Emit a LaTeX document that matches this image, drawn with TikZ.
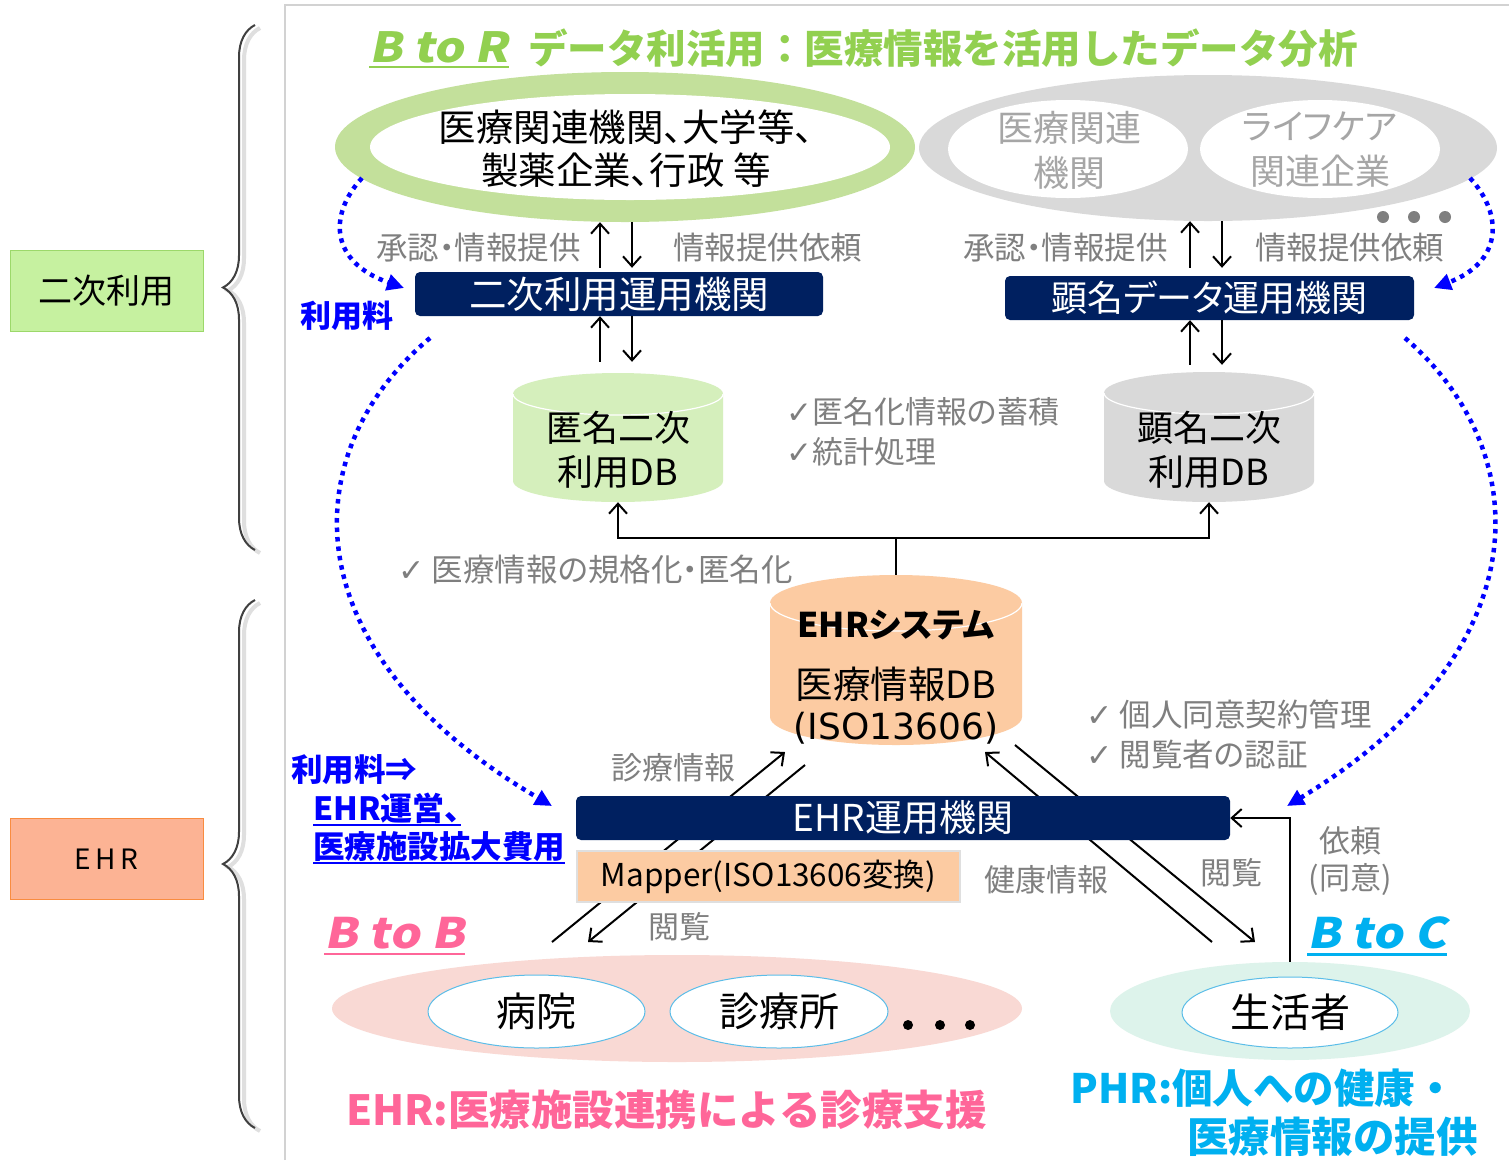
\documentclass[tikz,border=0pt]{standalone}
\usepackage{fontspec}
\setmainfont{Noto Sans CJK JP}[RawFeature=+palt]
\newfontfamily\nopalt{Noto Sans CJK JP}
\newfontfamily\djv{DejaVu Sans}
\newfontfamily\slantf{Noto Sans CJK JP}[FakeSlant=0.2,FakeStretch=1.15]
\usetikzlibrary{arrows.meta,shapes.geometric,decorations.pathreplacing,calc}
\newcommand\fsz[2]{\fontsize{#1pt}{#2pt}\selectfont}
\definecolor{navy}{HTML}{002060}
\definecolor{tgreen}{HTML}{92D050}
\definecolor{ring}{HTML}{C3E09B}
\definecolor{lgray}{HTML}{D9D9D9}
\definecolor{tgray}{HTML}{7F7F7F}
\definecolor{igray}{HTML}{A6A6A6}
\definecolor{dbgreen}{HTML}{D5EFBC}
\definecolor{peach}{HTML}{FCCBA2}
\definecolor{pinkbg}{HTML}{F9D9D4}
\definecolor{mint}{HTML}{DDF3EB}
\definecolor{edgeblue}{HTML}{5BBDE8}
\definecolor{tpink}{HTML}{FF6699}
\definecolor{tcyan}{HTML}{00B0F0}
\definecolor{tblue}{HTML}{0000FF}
\definecolor{boxg}{HTML}{C6F1A0}
\definecolor{boxgd}{HTML}{9CD86A}
\definecolor{boxo}{HTML}{FCB394}
\definecolor{boxod}{HTML}{F98C40}
\newcommand\mycyl[6]{%
  \fill[#6] (#1-#4,#2+#5) -- (#1-#4,#3-#5)
    arc[start angle=180,end angle=360,x radius=#4pt,y radius=#5pt]
    -- (#1+#4,#2+#5)
    arc[start angle=0,end angle=180,x radius=#4pt,y radius=#5pt] -- cycle;
  \draw[white,line width=1.2pt] (#1-#4,#2+#5)
    arc[start angle=180,end angle=360,x radius=#4pt,y radius=#5pt];
}
\begin{document}
\begin{tikzpicture}[x=1pt,y=-1pt,
  navybox/.style={fill=navy, rounded corners=5pt, text=white, minimum height=44pt, inner sep=0pt},
  gtext/.style={text=tgray, inner sep=0pt},
  conn/.style={line width=2pt, black},
  arr/.style={conn, -{Straight Barb[length=10pt,width=18pt]}},
  bluedot/.style={tblue, line width=4.5pt, dash pattern=on 4.5pt off 5pt, -{Triangle[length=17pt,width=16pt]}},
  whiteell/.style={ellipse, fill=white, draw=edgeblue, line width=1pt, inner sep=0pt},
  bigell/.style={ellipse, inner sep=0pt},
  bracestyle/.style={decorate, decoration={brace, amplitude=32pt, aspect=0.5}}
]
\useasboundingbox (0,0) rectangle (1509,1160);
\fill[white] (0,0) rectangle (1509,1160);

% frame
\draw[gray!35,line width=1.5pt] (285,1160) -- (285,5) -- (1509,5);

% left labels
\node[draw=boxgd, fill=boxg, line width=1pt, minimum width=193pt, minimum height=81pt, inner sep=0pt] (lb1) at (106.5,290.5) {\fsz{34}{40}二次利用};
\node[draw=boxod, fill=boxo, line width=1pt, minimum width=193pt, minimum height=81pt, inner sep=0pt] (lb2) at (106.5,859) {\fsz{28}{32}E\,H\,R};

% braces
\draw[bracestyle, gray!25, line width=4pt] (260,553) -- (260,28);
\draw[bracestyle, black!75, line width=2pt] (255,550) -- (255,25);
\draw[bracestyle, gray!25, line width=4pt] (260,1131) -- (260,603);
\draw[bracestyle, black!75, line width=2pt] (255,1128) -- (255,600);

% title
\node[anchor=west, text=tgreen, inner sep=0pt] (btr) at (369,47) {\fsz{41.5}{48}\slantf\bfseries B to R};
\draw[tgreen, line width=2.5pt] ([yshift=-4pt]btr.south west) -- ([yshift=-4pt]btr.south east);
\node[anchor=west, text=tgreen, inner sep=0pt] (ttl) at (528,48) {\fsz{39.5}{48}\nopalt\bfseries データ利活用：医療情報を活用したデータ分析};

% top ellipses
\node[bigell, fill=ring, minimum width=580pt, minimum height=150pt] (gell) at (625,147) {};
\node[bigell, fill=white, minimum width=520pt, minimum height=106pt] (gin) at (630,147) {};
\node[align=center, inner sep=0pt, font={\fsz{37.5}{43}}] (gtxt) at (626,149) {医療関連機関、大学等、\\製薬企業、行政 等};

\node[bigell, fill=lgray, minimum width=578pt, minimum height=146pt] (grell) at (1208,148) {};
\node[bigell, fill=white, minimum width=240pt, minimum height=98pt] (gi1) at (1068,149) {};
\node[align=center, text=igray, inner sep=0pt, font={\fsz{36}{45}}] (gi1t) at (1069,150) {医療関連\\機関};
\node[bigell, fill=white, minimum width=240pt, minimum height=98pt] (gi2) at (1320,149) {};
\node[align=center, text=igray, inner sep=0pt, font={\fsz{35}{45}}] (gi2t) at (1320,150) {ライフケア\\関連企業};
\fill[tgray] (1383,217) circle (6pt) (1414,217) circle (6pt) (1445,217) circle (6pt);

% blue dotted curves
\coordinate (bl1s) at (362,178);
\coordinate (bl1e) at (404,288);
\coordinate (bl2s) at (430,338);
\coordinate (bl2e) at (552,806);
\coordinate (br1s) at (1470,178);
\coordinate (br1e) at (1434,288);
\coordinate (br2s) at (1405,338);
\coordinate (br2e) at (1287,806);
\draw[bluedot] (bl1s) .. controls (328,215) and (330,262) .. (bl1e);
\draw[bluedot] (bl2s) .. controls (296,450) and (286,650) .. (bl2e);
\draw[bluedot] (br1s) .. controls (1504,215) and (1502,262) .. (br1e);
\draw[bluedot] (br2s) .. controls (1535,450) and (1545,650) .. (br2e);

% operating boxes
\node[navybox, minimum width=408pt] (sec) at (619,294) {\fsz{37.5}{40}二次利用運用機関};
\node[navybox, minimum width=409pt] (ken) at (1209.5,298) {\fsz{36}{40}顕名データ運用機関};

% DB cylinders
\mycyl{618}{373}{502}{105}{21}{dbgreen}
\node[minimum width=210pt, minimum height=129pt, inner sep=0pt] (dbA) at (618,437.5) {};
\node[align=center, inner sep=0pt, font={\fsz{36}{44}}] (dbAt) at (618,450) {匿名二次\\利用DB};
\mycyl{1209}{372}{502}{105}{21}{lgray}
\node[minimum width=210pt, minimum height=130pt, inner sep=0pt] (dbB) at (1209,437) {};
\node[align=center, inner sep=0pt, font={\fsz{36}{44}}] (dbBt) at (1209,450) {顕名二次\\利用DB};

% vertical arrows
\coordinate (cL1) at (600,0);
\coordinate (cL2) at (632,0);
\coordinate (cR1) at (1190,0);
\coordinate (cR2) at (1222,0);
\draw[arr, shorten <=4pt] (sec.north -| cL1) -- (gell.south -| cL1);
\draw[arr, shorten >=4pt] (gell.south -| cL2) -- (sec.north -| cL2);
\draw[arr, shorten <=11pt] (dbA.north -| cL1) -- (sec.south -| cL1);
\draw[arr, shorten >=11pt] (sec.south -| cL2) -- (dbA.north -| cL2);
\draw[arr, shorten <=8pt] (ken.north -| cR1) -- (grell.south -| cR1);
\draw[arr, shorten >=8pt] (grell.south -| cR2) -- (ken.north -| cR2);
\draw[arr, shorten <=7pt] (dbB.north -| cR1) -- (ken.south -| cR1);
\draw[arr, shorten >=7pt] (ken.south -| cR2) -- (dbB.north -| cR2);

% labels near arrows
\node[gtext, anchor=east] (l1) at (581,248) {\fsz{31.5}{36}承認・情報提供};
\node[gtext, anchor=west] (l2) at (673,248) {\fsz{31.5}{36}情報提供依頼};
\node[gtext, anchor=east] (l3) at (1168,248) {\fsz{31.5}{36}承認・情報提供};
\node[gtext, anchor=west] (l4) at (1255,248) {\fsz{31.5}{36}情報提供依頼};
\node[gtext, anchor=west, align=left, font={\fsz{31}{40}}] (chk1) at (786,432) {{\djv ✓}匿名化情報の蓄積\\{\djv ✓}統計処理};

% EHR cylinder
\mycyl{896}{575}{745}{126}{28}{peach}
\node[minimum width=252pt, minimum height=170pt, inner sep=0pt] (ehr) at (896,660) {};
\node[inner sep=0pt] (ehr1) at (896,625) {\fsz{34}{40}\bfseries EHRシステム};
\node[inner sep=0pt] (ehr2) at (896,684) {\fsz{37.5}{40}医療情報DB};
\node[inner sep=0pt] (ehr3) at (896,728) {\fsz{36}{40}\djv (ISO13606)};

\draw[conn] (ehr.north) -- ++(0,-37) coordinate (jn);
\draw[arr] (jn) -| (dbA.south);
\draw[arr] (jn) -| (dbB.south);

\node[gtext, anchor=west] (chk2) at (398,570) {\fsz{31.5}{36}{\djv ✓} 医療情報の規格化・匿名化};
\node[gtext, anchor=west, align=left, font={\fsz{31.5}{40}}] (chk3) at (1086,734) {{\djv ✓} 個人同意契約管理\\{\djv ✓} 閲覧者の認証};
\node[gtext] (lshin) at (673,768) {\fsz{31}{36}診療情報};

% diagonal flows
\coordinate (d1a) at (552,942);
\coordinate (d1b) at (785,752);
\coordinate (d2a) at (805,765);
\coordinate (d2b) at (588,942);
\coordinate (d3a) at (1212,942);
\coordinate (d3b) at (985,752);
\coordinate (d4a) at (1015,745);
\coordinate (d4b) at (1255,942);
\draw[arr] (d1a) -- (d1b);
\draw[arr] (d2a) -- (d2b);
\draw[arr] (d3a) -- (d3b);
\draw[arr] (d4a) -- (d4b);

% EHR operating box + mapper
\node[navybox, minimum width=654pt] (ehrbox) at (903,818) {\fsz{37}{40}EHR運用機関};
\node[fill=peach, draw=gray!25, line width=1.5pt, minimum width=383pt, minimum height=51pt, inner sep=0pt] (mapper) at (768.5,876.5) {\fsz{31.5}{36}Mapper(ISO13606変換)};

\node[gtext] (lken) at (1046,880) {\fsz{31}{36}健康情報};
\node[gtext] (lets1) at (1231,873) {\fsz{31}{36}閲覧};
\node[gtext] (lets2) at (679,927) {\fsz{31}{36}閲覧};
\node[gtext, align=center, font={\fsz{31}{37}}] (lirai) at (1350,861) {依頼\\(同意)};

% blue fee texts
\node[text=tblue, inner sep=0pt] (fee1) at (347,316) {\fsz{31}{36}\bfseries 利用料};
\node[text=tblue, anchor=west, inner sep=0pt] (fee2) at (291,770) {\fsz{31.5}{36}\bfseries 利用料⇒};
\node[text=tblue, anchor=west, inner sep=0pt] (fee3) at (313,808) {\fsz{32}{36}\bfseries EHR運営、};
\draw[tblue, line width=2pt] ([yshift=-1pt]fee3.south west) -- ([yshift=-1pt]fee3.south east);
\node[text=tblue, anchor=west, inner sep=0pt] (fee4) at (313,847) {\fsz{31.5}{36}\bfseries 医療施設拡大費用};
\draw[tblue, line width=2pt] ([yshift=-1pt]fee4.south west) -- ([yshift=-1pt]fee4.south east);

% B to B / B to C
\node[anchor=west, text=tpink, inner sep=0pt] (btb) at (324,933) {\fsz{42}{48}\slantf\bfseries B to B};
\draw[tpink, line width=2.5pt] ([yshift=-5pt]btb.south west) -- ([yshift=-5pt]btb.south east);
\node[anchor=west, text=tcyan, inner sep=0pt] (btc) at (1307,933) {\fsz{42}{48}\slantf\bfseries B to C};
\draw[tcyan, line width=2.5pt] ([yshift=-5pt]btc.south west) -- ([yshift=-5pt]btc.south east);

% bottom ellipses
\node[bigell, fill=pinkbg, minimum width=690pt, minimum height=107pt] (pinkell) at (677,1008.5) {};
\node[whiteell, minimum width=217pt, minimum height=73pt] (hosp) at (536.5,1011.5) {\fsz{40}{44}病院};
\node[whiteell, minimum width=218pt, minimum height=73pt] (clinic) at (779,1011.5) {\fsz{40}{44}診療所};
\fill[black] (908,1025) circle (5pt) (940,1025) circle (5pt) (970,1025) circle (5pt);
\node[bigell, fill=mint, minimum width=360pt, minimum height=98pt] (mintell) at (1290,1011) {};
\node[whiteell, minimum width=216pt, minimum height=71pt] (sei) at (1290,1012.5) {\fsz{40}{44}生活者};

\draw[arr] (mintell.north) |- (ehrbox.east);

% bottom captions
\node[anchor=west, text=tpink, inner sep=0pt] (capE) at (346,1110) {\fsz{41.5}{48}\nopalt\bfseries EHR:医療施設連携による診療支援};
\node[anchor=west, text=tcyan, inner sep=0pt] (capP1) at (1070,1088) {\fsz{40.5}{48}\nopalt\bfseries PHR:個人への健康・};
\node[anchor=east, text=tcyan, inner sep=0pt] (capP2) at (1478,1137) {\fsz{41.5}{48}\nopalt\bfseries 医療情報の提供};
\end{tikzpicture}
\end{document}
